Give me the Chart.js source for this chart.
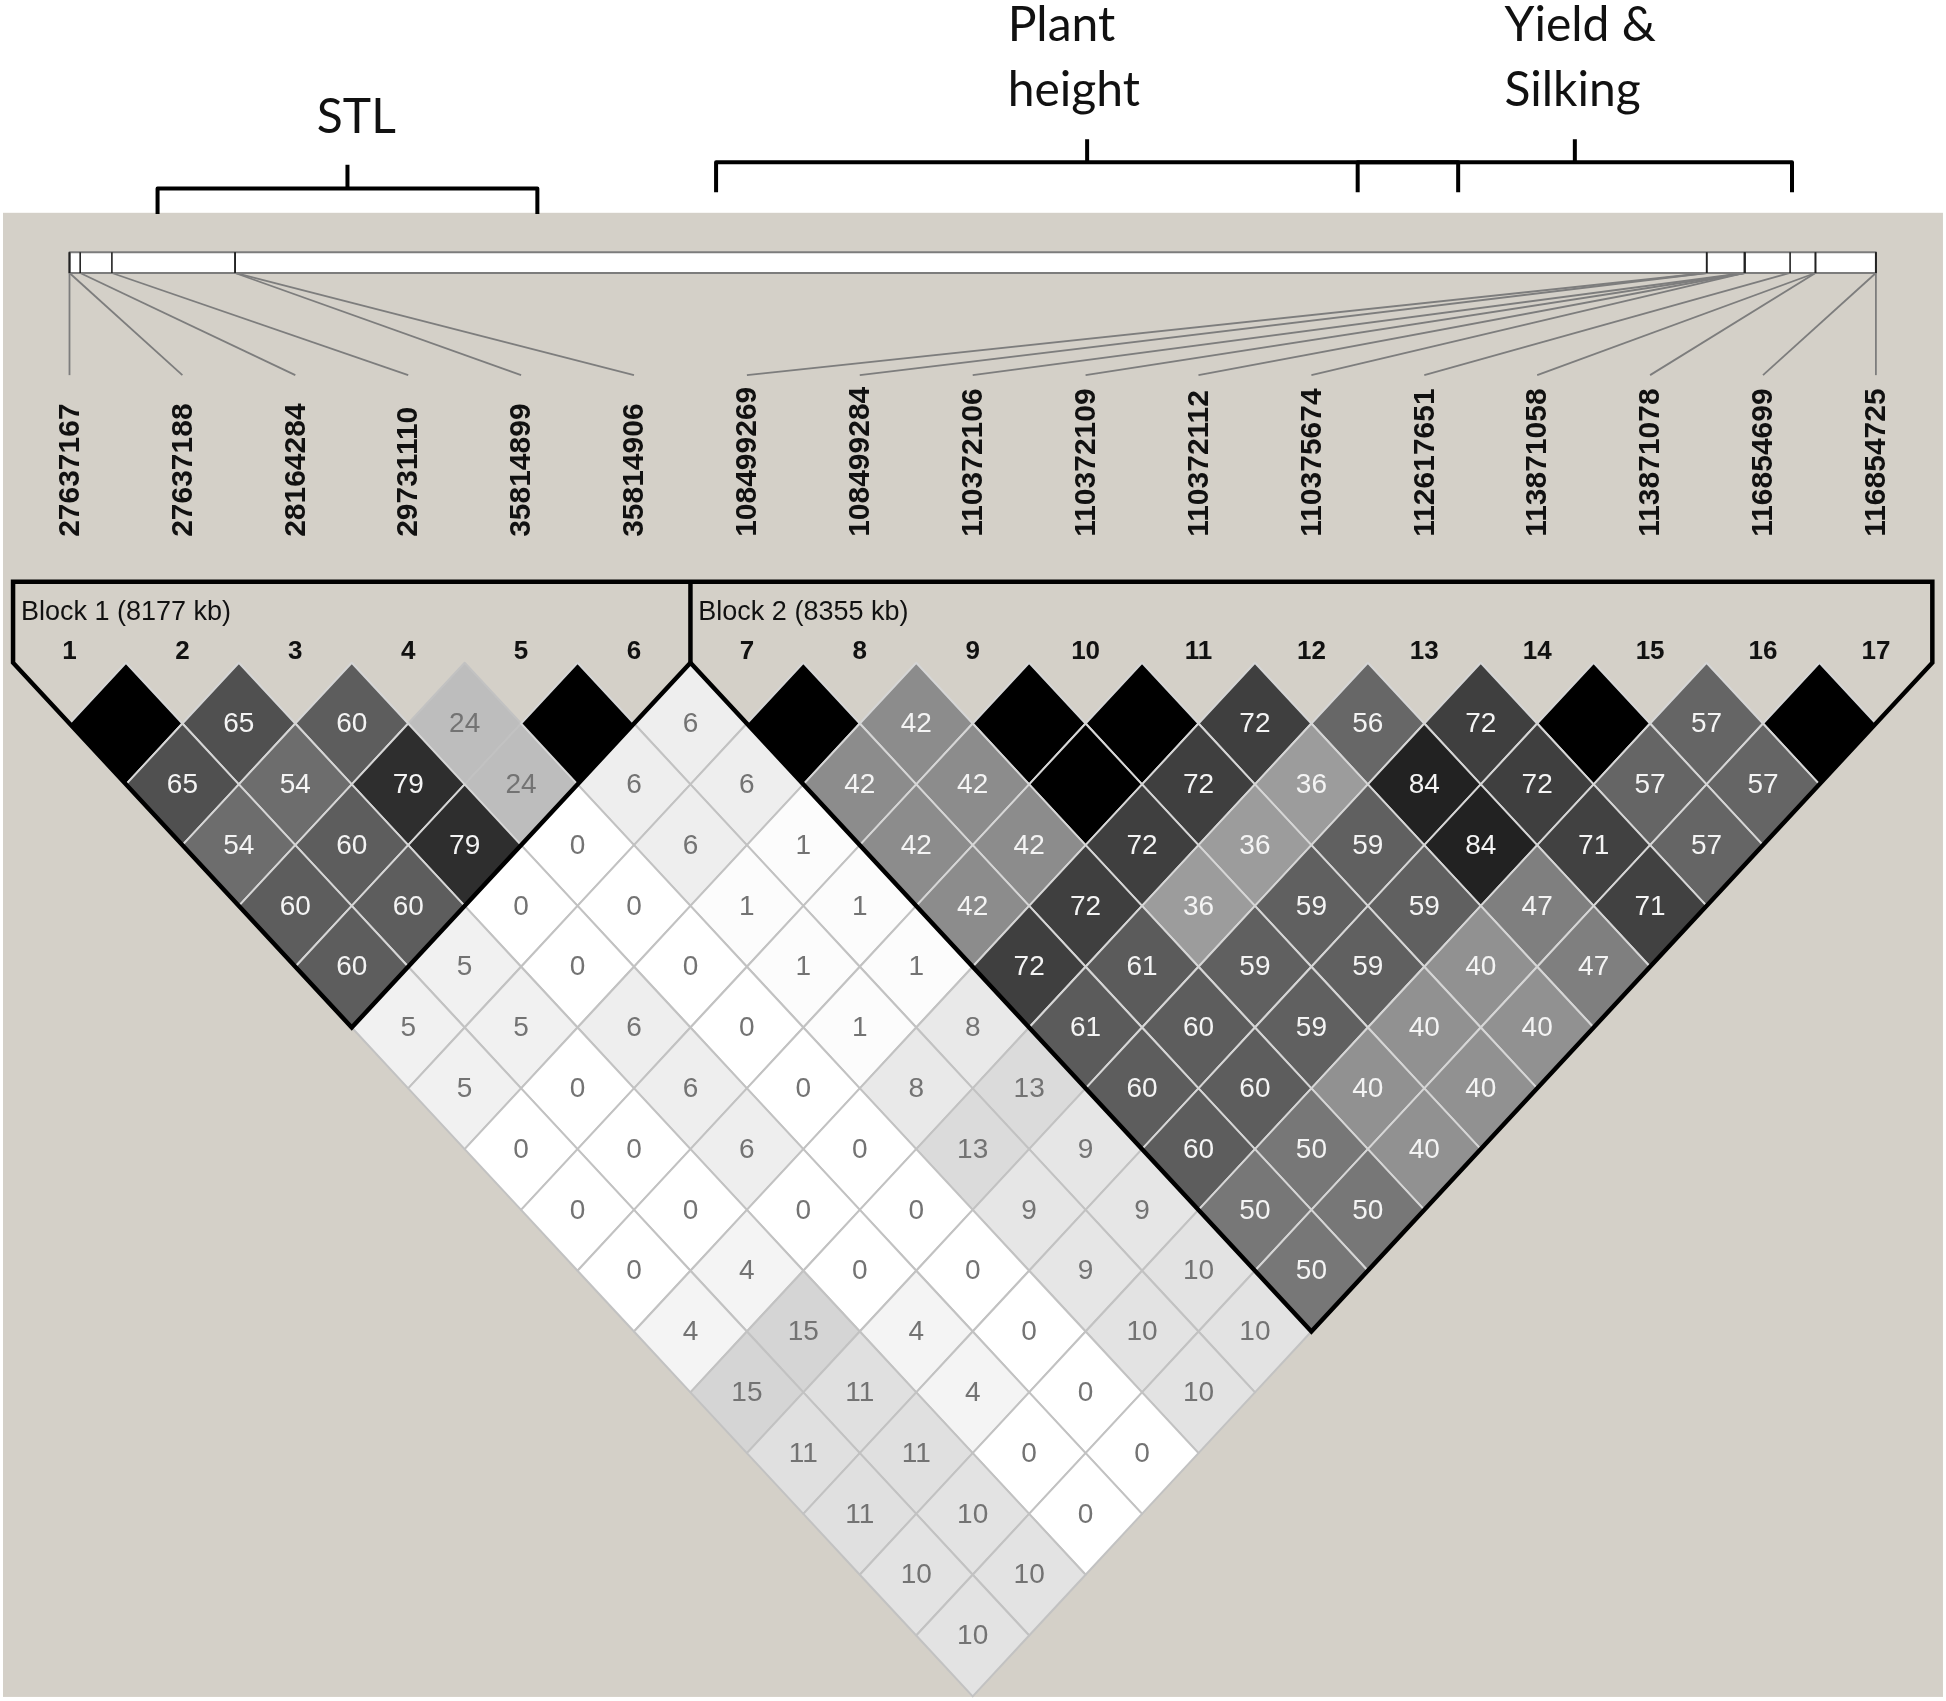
<!DOCTYPE html>
<html>
<head>
<meta charset="utf-8">
<script src="https://cdn.jsdelivr.net/npm/chart.js@4.4.1/dist/chart.umd.min.js"></script>
<style>
  html, body { margin: 0; padding: 0; background: #ffffff; }
  #wrap { width: 1946px; height: 1701px; }
</style>
</head>
<body>
<div id="wrap"><canvas id="c" width="1946" height="1701"></canvas></div>
<script>
// ---------------- DATA ----------------
const markerNames = ['27637167','27637188','28164284','29731110','35814899','35814906',
  '108499269','108499284','110372106','110372109','110372112','110375674',
  '112617651','113871058','113871078','116854699','116854725'];
const markerPositions = [27637167,27637188,28164284,29731110,35814899,35814906,
  108499269,108499284,110372106,110372109,110372112,110375674,
  112617651,113871058,113871078,116854699,116854725];

// LD (r2 x 100) between marker i and marker i+lag; 100 = black cell, no number
const ldLag1  = [100,65,60,24,100,6,100,42,100,100,72,56,72,100,57,100];
const ldLag2  = [65,54,79,24,6,6,42,42,100,72,36,84,72,57,57];
const ldLag3  = [54,60,79,0,6,1,42,42,72,36,59,84,71,57];
const ldLag4  = [60,60,0,0,1,1,42,72,36,59,59,47,71];
const ldLag5  = [60,5,0,0,1,1,72,61,59,59,40,47];
const ldLag6  = [5,5,6,0,1,8,61,60,59,40,40];
const ldLag7  = [5,0,6,0,8,13,60,60,40,40];
const ldLag8  = [0,0,6,0,13,9,60,50,40];
const ldLag9  = [0,0,0,0,9,9,50,50];
const ldLag10 = [0,4,0,0,9,10,50];
const ldLag11 = [4,15,4,0,10,10];
const ldLag12 = [15,11,4,0,10];
const ldLag13 = [11,11,0,0];
const ldLag14 = [11,10,0];
const ldLag15 = [10,10];
const ldLag16 = [10];
const ldLags = [ldLag1,ldLag2,ldLag3,ldLag4,ldLag5,ldLag6,ldLag7,ldLag8,
  ldLag9,ldLag10,ldLag11,ldLag12,ldLag13,ldLag14,ldLag15,ldLag16];

const blockStart = [1, 7];
const blockEnd = [6, 17];
const blockLabels = ['Block 1 (8177 kb)', 'Block 2 (8355 kb)'];

const traitLabels = [['STL'], ['Plant', 'height'], ['Yield &', 'Silking']];

// ---------------- LAYOUT (axis units: x = marker index, y = LD row) ----------------
const traitSpans = [[1.780, 5.144], [6.727, 13.300], [12.410, 16.257]];
const traitLineY = [-7.80, -8.23, -8.23];
const traitEndY = [-7.38, -7.74, -7.74];
const traitTipY = [-8.19, -8.61, -8.61];
const traitTextX = [3.19, 9.31, 13.71];
const traitTextY = [[-8.71], [-10.23, -9.16], [-10.23, -9.16]];

const bgBox = { x0: 0.411, x1: 17.594, y0: -7.40, y1: 17.01 };
const barTop = -6.75, barBottom = -6.41, connEnd = -4.73, nameStart = -2.07;
const blockTop = -1.33, blockLabelY = -0.70, markerNumY = -0.18;

// ---------------- BUILD CELLS ----------------
const cells = [];
ldLags.forEach((arr, k) => {
  const d = k + 1;
  arr.forEach((v, idx) => {
    const i = idx + 1, j = i + d;
    cells.push({ x: (i + j) / 2, y: d, v: v, i: i, j: j });
  });
});

const p1 = markerPositions[0], pN = markerPositions[markerPositions.length - 1];
const physToUnit = p => 1 + (markerNames.length - 1) * (p - p1) / (pN - p1);

function cellColor(v) {
  if (v >= 100) return '#000000';
  const g = Math.round(255 * Math.pow(1 - v / 100, 1.1));
  return 'rgb(' + g + ',' + g + ',' + g + ')';
}

const ldPlugin = {
  id: 'ldPlot',
  beforeDatasetsDraw(chart) {
    const ctx = chart.ctx;
    const xs = chart.scales.x, ys = chart.scales.y;
    const px = u => xs.getPixelForValue(u);
    const py = u => ys.getPixelForValue(u);
    ctx.save();

    // backgrounds
    ctx.fillStyle = '#ffffff';
    ctx.fillRect(0, 0, chart.width, chart.height);
    ctx.fillStyle = '#d4d0c8';
    ctx.fillRect(px(bgBox.x0), py(bgBox.y0), px(bgBox.x1) - px(bgBox.x0), py(bgBox.y1) - py(bgBox.y0));

    // trait braces
    ctx.strokeStyle = '#000000';
    ctx.lineWidth = 4;
    ctx.lineCap = 'butt';
    ctx.lineJoin = 'round';
    traitSpans.forEach((s, k) => {
      const a = px(s[0]), b = px(s[1]), c = px((s[0] + s[1]) / 2);
      const ly = py(traitLineY[k]);
      ctx.beginPath();
      ctx.moveTo(a, py(traitEndY[k]));
      ctx.lineTo(a, ly);
      ctx.lineTo(b, ly);
      ctx.lineTo(b, py(traitEndY[k]));
      ctx.stroke();
      ctx.beginPath();
      ctx.moveTo(c, ly);
      ctx.lineTo(c, py(traitTipY[k]));
      ctx.stroke();
    });
    ctx.fillStyle = '#111111';
    ctx.font = '48px Lato, "Open Sans", sans-serif';
    ctx.textAlign = 'left';
    ctx.textBaseline = 'alphabetic';
    traitLabels.forEach((lines, k) => {
      lines.forEach((t, m) => ctx.fillText(t, px(traitTextX[k]), py(traitTextY[k][m])));
    });

    // chromosome bar
    const bx0 = px(physToUnit(p1)), bx1 = px(physToUnit(pN));
    const by0 = py(barTop), by1 = py(barBottom);
    ctx.fillStyle = '#ffffff';
    ctx.fillRect(bx0, by0, bx1 - bx0, by1 - by0);
    ctx.strokeStyle = '#7c7c7c';
    ctx.lineWidth = 2;
    ctx.strokeRect(bx0, by0, bx1 - bx0, by1 - by0);
    // connectors
    ctx.strokeStyle = '#7d7d7d';
    ctx.lineWidth = 1.8;
    markerPositions.forEach((p, k) => {
      ctx.beginPath();
      ctx.moveTo(px(physToUnit(p)), by1);
      ctx.lineTo(px(k + 1), py(connEnd));
      ctx.stroke();
    });
    // ticks
    ctx.strokeStyle = '#222222';
    ctx.lineWidth = 1.6;
    markerPositions.forEach(p => {
      const tx = px(physToUnit(p));
      ctx.beginPath();
      ctx.moveTo(tx, by0);
      ctx.lineTo(tx, by1);
      ctx.stroke();
    });

    // marker names (rotated)
    ctx.fillStyle = '#111111';
    ctx.font = 'bold 30px "Liberation Sans", Arial, sans-serif';
    ctx.textAlign = 'left';
    ctx.textBaseline = 'middle';
    markerNames.forEach((n, k) => {
      ctx.save();
      ctx.translate(px(k + 1), py(nameStart));
      ctx.rotate(-Math.PI / 2);
      ctx.fillText(n, 0, 1);
      ctx.restore();
    });

    // LD cells
    const meta = chart.getDatasetMeta(0);
    const order = cells.map((c, k) => k).sort((a, b) => (cells[a].v >= 30) - (cells[b].v >= 30));
    order.forEach(k => {
      const c = cells[k], el = meta.data[k];
      const hw = px(c.x + 0.5) - el.x, hh = py(c.y + 1) - el.y;
      ctx.beginPath();
      ctx.moveTo(el.x, el.y - hh);
      ctx.lineTo(el.x + hw, el.y);
      ctx.lineTo(el.x, el.y + hh);
      ctx.lineTo(el.x - hw, el.y);
      ctx.closePath();
      ctx.fillStyle = cellColor(c.v);
      ctx.fill();
      ctx.strokeStyle = c.v >= 30 ? '#d6d6d6' : '#c2c2c2';
      ctx.lineWidth = 2;
      ctx.stroke();
    });
    ctx.font = '28px "Liberation Sans", Arial, sans-serif';
    ctx.textAlign = 'center';
    ctx.textBaseline = 'middle';
    cells.forEach((c, k) => {
      if (c.v >= 100) return;
      const el = meta.data[k];
      ctx.fillStyle = c.v >= 30 ? '#f4f4f4' : '#737373';
      ctx.fillText(String(c.v), el.x, el.y + 1);
    });

    // block outlines
    ctx.strokeStyle = '#000000';
    ctx.lineWidth = 4.5;
    ctx.lineJoin = 'miter';
    ctx.beginPath();
    const first = blockStart[0], last = blockEnd[blockEnd.length - 1];
    ctx.moveTo(px(first - 0.5), py(blockTop));
    ctx.lineTo(px(last + 0.5), py(blockTop));
    ctx.lineTo(px(last + 0.5), py(0));
    for (let b = blockStart.length - 1; b >= 0; b--) {
      const s = blockStart[b], e = blockEnd[b];
      ctx.lineTo(px((s + e) / 2), py(e - s + 1));
      ctx.lineTo(px(s - 0.5), py(0));
    }
    ctx.lineTo(px(first - 0.5), py(blockTop));
    ctx.closePath();
    ctx.stroke();
    for (let b = 1; b < blockStart.length; b++) {
      ctx.beginPath();
      ctx.moveTo(px(blockStart[b] - 0.5), py(blockTop));
      ctx.lineTo(px(blockStart[b] - 0.5), py(0));
      ctx.stroke();
    }

    // block labels
    ctx.fillStyle = '#111111';
    ctx.font = '27px "Liberation Sans", Arial, sans-serif';
    ctx.textAlign = 'left';
    ctx.textBaseline = 'alphabetic';
    blockLabels.forEach((t, b) => ctx.fillText(t, px(blockStart[b] - 0.43), py(blockLabelY)));

    // marker numbers
    ctx.font = 'bold 26px "Liberation Sans", Arial, sans-serif';
    ctx.textAlign = 'center';
    ctx.textBaseline = 'middle';
    markerNames.forEach((n, k) => ctx.fillText(String(k + 1), px(k + 1), py(markerNumY)));

    ctx.restore();
  }
};

new Chart(document.getElementById('c'), {
  type: 'scatter',
  data: {
    datasets: [{
      data: cells,
      pointRadius: 0,
      pointHoverRadius: 0,
      pointHitRadius: 0
    }]
  },
  options: {
    responsive: false,
    animation: false,
    devicePixelRatio: 1,
    layout: { padding: 0 },
    events: [],
    plugins: { legend: { display: false }, tooltip: { enabled: false } },
    scales: {
      x: { type: 'linear', min: 0.3844, max: 17.621, display: false },
      y: { type: 'linear', reverse: true, min: -10.90, max: 17.077, display: false }
    }
  },
  plugins: [ldPlugin]
});
</script>
</body>
</html>
